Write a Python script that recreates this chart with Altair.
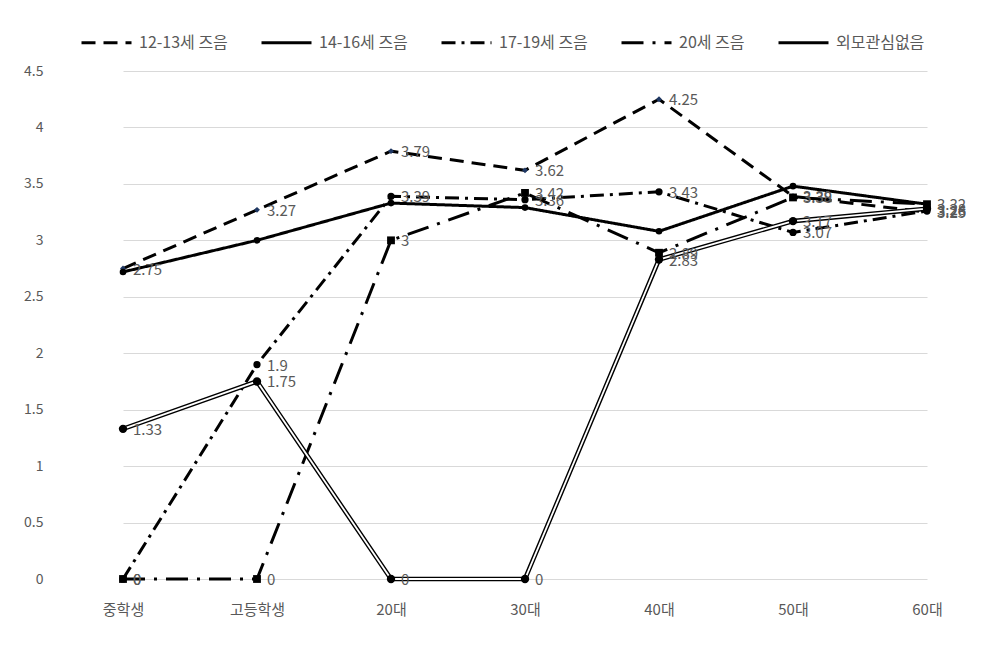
import altair as alt
import pandas as pd

categories = ["중학생", "고등학생", "20대", "30대", "40대", "50대", "60대"]
series_names = ["12-13세 즈음", "14-16세 즈음", "17-19세 즈음", "20세 즈음", "외모관심없음"]
marker_keys = ["m1", "m2", "m3", "m4", "m5"]

s_12_13 = [2.75, 3.27, 3.79, 3.62, 4.25, 3.39, 3.25]
s_14_16 = [2.72, 3.0, 3.33, 3.29, 3.08, 3.48, 3.32]
s_17_19 = [0, 1.9, 3.39, 3.36, 3.43, 3.07, 3.26]
s_20 = [0, 0, 3, 3.42, 2.89, 3.38, 3.32]
s_none = [1.33, 1.75, 0, 0, 2.83, 3.17, 3.28]

y_ticks = [0, 0.5, 1, 1.5, 2, 2.5, 3, 3.5, 4, 4.5]

all_series = [s_12_13, s_14_16, s_17_19, s_20, s_none]
rows = []
for name, mk, vals in zip(series_names, marker_keys, all_series):
    for i, (c, v) in enumerate(zip(categories, vals)):
        rows.append({"cat": c, "series": name, "mk": mk, "value": v, "order": i})
df = pd.DataFrame(rows)

FONT = "Noto Sans CJK KR"
GRAY = "#595959"

x_enc = alt.X(
    "cat:N",
    sort=categories,
    scale=alt.Scale(type="point", range=[66, 870], padding=0),
    axis=alt.Axis(title=None, ticks=False, domain=False, labelAngle=0,
                  labelPadding=23, labelFontSize=15, labelColor=GRAY, labelFont=FONT),
)
y_enc = alt.Y(
    "value:Q",
    scale=alt.Scale(domain=[0, 4.5], nice=False, zero=True),
    axis=alt.Axis(title=None, values=y_ticks, ticks=False, domain=False, format="~g",
                  gridColor="#d9d9d9", gridWidth=1.2, labelPadding=14,
                  labelFontSize=14, labelColor=GRAY, labelFont=FONT),
)

dash_range = [[14, 8], [1, 0], [14, 6, 3, 6], [22, 9, 3, 9], [1, 0]]

base = alt.Chart(df)

lines = base.mark_line(color="black", strokeCap="butt", strokeJoin="miter").encode(
    x=x_enc,
    y=y_enc,
    detail="series:N",
    order="order:Q",
    strokeDash=alt.StrokeDash(
        "series:N",
        scale=alt.Scale(domain=series_names, range=dash_range),
        legend=alt.Legend(
            title=None, orient="none", legendX=23, legendY=-55, direction="horizontal",
            symbolType="stroke", symbolSize=2500, symbolStrokeWidth=3.5,
            symbolStrokeColor="black", labelFontSize=16, labelColor=GRAY, labelFont=FONT,
            labelFontWeight="normal", columnPadding=27, labelOffset=6, columns=5,
        ),
    ),
)

thick_line = base.transform_filter(alt.datum.series == "외모관심없음").mark_line(
    color="black", strokeWidth=4.6
).encode(x=x_enc, y=y_enc, order="order:Q")

white_line = base.transform_filter(alt.datum.series == "외모관심없음").mark_line(
    color="white", strokeWidth=1.8
).encode(x=x_enc, y=y_enc, order="order:Q")

points = base.mark_point(filled=True, opacity=1).encode(
    x=x_enc,
    y=y_enc,
    shape=alt.Shape(
        "mk:N",
        scale=alt.Scale(domain=marker_keys,
                        range=["diamond", "circle", "circle", "square", "circle"]),
        legend=None,
    ),
    color=alt.Color(
        "mk:N",
        scale=alt.Scale(domain=marker_keys,
                        range=["#1f3864", "black", "black", "black", "black"]),
        legend=None,
    ),
    size=alt.Size(
        "mk:N",
        scale=alt.Scale(domain=marker_keys, range=[35, 70, 60, 110, 80]),
        legend=None,
    ),
)

labels = base.transform_filter(alt.datum.series != "14-16세 즈음").mark_text(
    align="left", baseline="middle", dx=10, dy=1, fontSize=15, color=GRAY, font=FONT
).encode(x=x_enc, y=y_enc, text=alt.Text("value:Q"))

chart = (
    alt.layer(lines, thick_line, white_line, points, labels)
    .properties(
        width=920,
        height=508,
        autosize="none",
        padding={"left": 49, "top": 63, "right": 0, "bottom": 60},
        background="white",
    )
    .configure_view(stroke=None)
    .configure_line(strokeWidth=3)
)

chart.save("out.html", embed_options={"renderer": "svg", "actions": False})
